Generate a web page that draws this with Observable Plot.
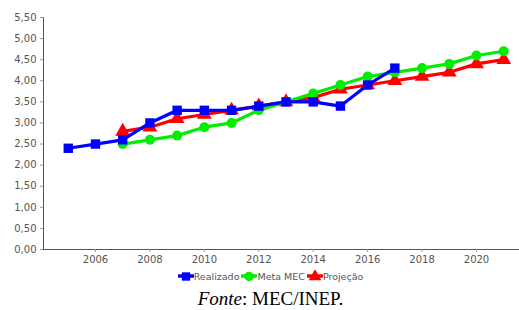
<!DOCTYPE html>
<html><head><meta charset="utf-8">
<script src="https://cdn.jsdelivr.net/npm/d3@7"></script>
<script src="https://cdn.jsdelivr.net/npm/@observablehq/plot@0.6"></script>
<style>
body{margin:0;background:#fff;width:519px;height:310px;overflow:hidden}
#chart svg{display:block}
#legend{height:16px;line-height:16px;text-align:center;padding-left:22px;font:9.5px "DejaVu Sans",sans-serif;color:#555;white-space:nowrap}
#legend span.item{display:inline-flex;align-items:center;margin:0 1px}
#legend svg{vertical-align:middle}
#caption{margin-top:2px;height:20px;line-height:20px;text-align:center;padding-left:22px;font:19px "Liberation Serif","Times New Roman",serif;color:#000;white-space:nowrap}
</style></head>
<body>
<div id="chart"></div>
<div id="legend"></div>
<div id="caption"><i>Fonte</i>: MEC/INEP.</div>
<script>
const yearsRealizado = [2005,2006,2007,2008,2009,2010,2011,2012,2013,2014,2015,2016,2017];
const realizado = [2.4,2.5,2.6,3.0,3.3,3.3,3.3,3.4,3.5,3.5,3.4,3.9,4.3];
const yearsMeta = [2007,2008,2009,2010,2011,2012,2013,2014,2015,2016,2017,2018,2019,2020,2021];
const metaMEC = [2.5,2.6,2.7,2.9,3.0,3.3,3.5,3.7,3.9,4.1,4.2,4.3,4.4,4.6,4.7];
const yearsProj = [2007,2008,2009,2010,2011,2012,2013,2014,2015,2016,2017,2018,2019,2020,2021];
const projecao = [2.8,2.9,3.1,3.2,3.3,3.4,3.5,3.6,3.8,3.9,4.0,4.1,4.2,4.4,4.5];
const xTicks = [2006,2008,2010,2012,2014,2016,2018,2020];
const yTicks = [0,0.5,1,1.5,2,2.5,3,3.5,4,4.5,5,5.5];
const seriesNames = ["Realizado","Meta MEC","Projeção"];
const seriesColors = ["#0000ff","#00ee00","#ff0000"];
const seriesSymbols = ["square","circle","triangle"];

const rows = (ys, vs, s) => ys.map((y,i)=>({year:y, value:vs[i], serie:s}));
const dR = rows(yearsRealizado, realizado, seriesNames[0]);
const dM = rows(yearsMeta, metaMEC, seriesNames[1]);
const dP = rows(yearsProj, projecao, seriesNames[2]);
const fmt = v => v.toFixed(2).replace(".", ",");

const plot = Plot.plot({
  width: 519, height: 270,
  marginLeft: 43, marginRight: 0, marginTop: 17, marginBottom: 21,
  style: {fontFamily: "DejaVu Sans, sans-serif", fontSize: "10px", color: "#555", background: "#fff"},
  x: {domain: [2004.09, 2021.58], ticks: xTicks, tickFormat: d => String(d), tickSize: 3, tickPadding: 3, line: true, label: null},
  y: {domain: [0, 5.5], ticks: yTicks, tickFormat: fmt, tickSize: 3, tickPadding: 4, line: true, label: null},
  marks: [
    Plot.line(dP, {x: "year", y: "value", stroke: seriesColors[2], strokeWidth: 3.2}),
    Plot.dot(dP, {x: "year", y: "value", symbol: "triangle", r: 5.5, fill: seriesColors[2]}),
    Plot.line(dM, {x: "year", y: "value", stroke: seriesColors[1], strokeWidth: 3.2}),
    Plot.dot(dM, {x: "year", y: "value", symbol: "circle", r: 5, fill: seriesColors[1]}),
    Plot.line(dR, {x: "year", y: "value", stroke: seriesColors[0], strokeWidth: 3.2}),
    Plot.dot(dR, {x: "year", y: "value", symbol: "square", r: 5.3, fill: seriesColors[0]})
  ]
});
plot.querySelectorAll('[aria-label="x-axis line"], [aria-label="y-axis line"]').forEach(g=>g.setAttribute("stroke","#999"));
plot.querySelectorAll('[aria-label="x-axis tick"], [aria-label="y-axis tick"]').forEach(g=>g.setAttribute("stroke","#999"));
document.getElementById("chart").appendChild(plot);

const legend = document.getElementById("legend");
seriesNames.forEach((name,i)=>{
  const item = document.createElement("span");
  item.className = "item";
  const sw = d3.create("svg").attr("width",16).attr("height",12);
  sw.append("line").attr("x1",0).attr("x2",16).attr("y1",6).attr("y2",6).attr("stroke",seriesColors[i]).attr("stroke-width",3.5);
  const sym = {square: d3.symbolSquare, circle: d3.symbolCircle, triangle: d3.symbolTriangle}[seriesSymbols[i]];
  sw.append("path").attr("transform","translate(8,6.5)").attr("d", d3.symbol(sym, 70)()).attr("fill",seriesColors[i]);
  item.appendChild(sw.node());
  const t = document.createElement("span");
  t.textContent = name;
  item.appendChild(t);
  legend.appendChild(item);
});
</script>
</body></html>
